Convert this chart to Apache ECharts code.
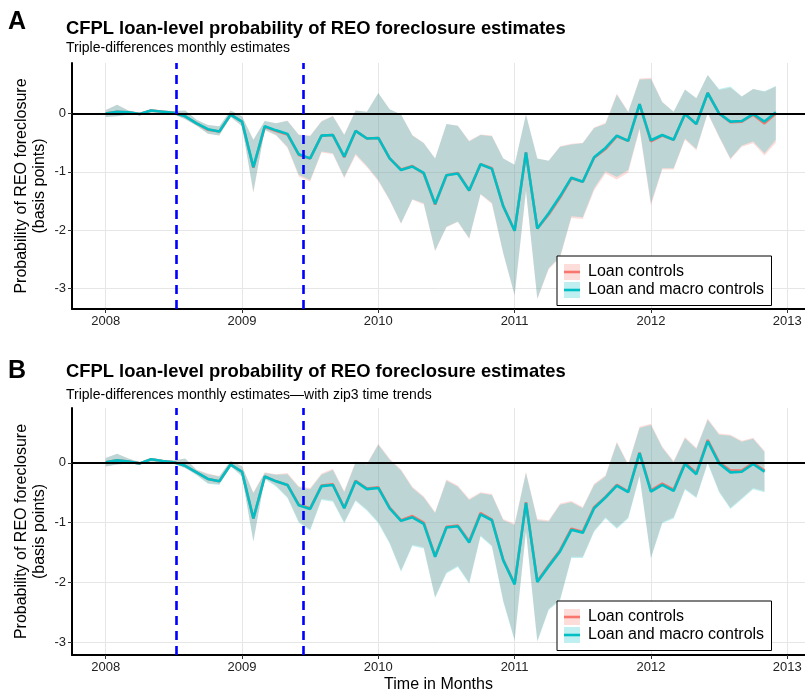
<!DOCTYPE html>
<html><head><meta charset="utf-8">
<script src="https://cdn.jsdelivr.net/npm/echarts@6/dist/echarts.min.js"></script>
<style>html,body{margin:0;padding:0;background:#fff}#c{width:805px;height:693px}</style>
</head><body><div id="c"></div>
<script>
// ---------- data ----------
const months = [
 '2008-01','2008-02','2008-03','2008-04','2008-05','2008-06','2008-07','2008-08','2008-09','2008-10','2008-11','2008-12',
 '2009-01','2009-02','2009-03','2009-04','2009-05','2009-06','2009-07','2009-08','2009-09','2009-10','2009-11','2009-12',
 '2010-01','2010-02','2010-03','2010-04','2010-05','2010-06','2010-07','2010-08','2010-09','2010-10','2010-11','2010-12',
 '2011-01','2011-02','2011-03','2011-04','2011-05','2011-06','2011-07','2011-08','2011-09','2011-10','2011-11','2011-12',
 '2012-01','2012-02','2012-03','2012-04','2012-05','2012-06','2012-07','2012-08','2012-09','2012-10','2012-11','2012-12'];
const yearTicks = [2008, 2009, 2010, 2011, 2012, 2013];
const yTicks = [-3, -2, -1, 0];
const policyDates = ['2008-07-08', '2009-06-15'];
const seriesNames = ['Loan controls', 'Loan and macro controls'];
const titleText = 'CFPL loan-level probability of REO foreclosure estimates';
const subtitleA = 'Triple-differences monthly estimates';
const subtitleB = 'Triple-differences monthly estimates\u2014with zip3 time trends';
const yName = 'Probability of REO foreclosure\n(basis points)';
const xName = 'Time in Months';

// Panel A (60 months)
const aMacroEst = [0.00,0.03,0.02,-0.01,0.05,0.03,0.01,-0.05,-0.17,-0.27,-0.31,-0.02,
 -0.14,-0.92,-0.22,-0.29,-0.35,-0.70,-0.77,-0.38,-0.37,-0.74,-0.30,-0.43,
 -0.42,-0.77,-0.97,-0.91,-1.02,-1.55,-1.06,-1.03,-1.32,-0.87,-0.95,-1.59,
 -2.01,-0.67,-1.97,-1.71,-1.42,-1.10,-1.17,-0.75,-0.59,-0.38,-0.47,0.16,
 -0.46,-0.37,-0.45,-0.01,-0.18,0.35,0.00,-0.14,-0.13,-0.01,-0.14,0.02];
const aMacroHi = [0.06,0.15,0.05,0.01,0.07,0.05,0.04,0.05,-0.11,-0.20,-0.22,0.05,
 -0.05,-0.45,-0.13,-0.17,-0.13,-0.37,-0.39,-0.14,-0.05,-0.37,0.05,0.03,
 0.35,0.07,-0.02,-0.38,-0.51,-0.77,-0.18,-0.21,-0.48,-0.37,-0.39,-0.77,
 -0.88,-0.02,-0.77,-0.81,-0.57,-0.53,-0.51,-0.25,-0.18,0.32,0.02,0.58,
 0.59,0.19,0.03,0.41,0.26,0.66,0.42,0.46,0.29,0.42,0.38,0.47];
const aMacroLo = [-0.06,-0.05,-0.02,-0.03,0.01,0.01,-0.02,-0.10,-0.21,-0.35,-0.38,-0.06,
 -0.22,-1.34,-0.28,-0.37,-0.57,-1.05,-1.14,-0.65,-0.68,-1.09,-0.69,-0.90,
 -1.14,-1.48,-1.88,-1.47,-1.54,-2.35,-1.94,-1.85,-2.14,-1.38,-1.53,-2.39,
 -3.11,-1.32,-3.17,-2.65,-2.45,-1.76,-1.78,-1.28,-0.99,-1.09,-0.97,-0.25,
 -1.54,-0.94,-0.94,-0.43,-0.61,0.01,-0.39,-0.77,-0.55,-0.48,-0.68,-0.45];
const aLoanEst = [0.00,0.03,0.02,-0.01,0.05,0.03,0.01,-0.05,-0.17,-0.28,-0.31,-0.02,
 -0.14,-0.93,-0.23,-0.30,-0.36,-0.71,-0.77,-0.38,-0.37,-0.75,-0.30,-0.43,
 -0.42,-0.77,-0.96,-0.90,-1.03,-1.56,-1.06,-1.02,-1.32,-0.87,-0.94,-1.59,
 -2.01,-0.67,-1.97,-1.73,-1.44,-1.11,-1.17,-0.76,-0.61,-0.39,-0.47,0.16,
 -0.48,-0.38,-0.45,-0.01,-0.18,0.35,0.00,-0.15,-0.14,-0.02,-0.17,0.00];
const aLoanHi = [0.06,0.15,0.05,0.01,0.07,0.05,0.04,0.05,-0.11,-0.20,-0.22,0.05,
 -0.05,-0.45,-0.13,-0.17,-0.12,-0.36,-0.38,-0.13,-0.04,-0.36,0.05,0.03,
 0.35,0.07,-0.02,-0.37,-0.50,-0.77,-0.18,-0.21,-0.47,-0.36,-0.38,-0.77,
 -0.88,-0.02,-0.77,-0.81,-0.56,-0.52,-0.50,-0.24,-0.16,0.34,0.03,0.60,
 0.61,0.20,0.03,0.41,0.26,0.66,0.40,0.44,0.29,0.42,0.37,0.46];
const aLoanLo = [-0.06,-0.05,-0.02,-0.03,0.01,0.01,-0.02,-0.10,-0.21,-0.35,-0.38,-0.06,
 -0.22,-1.36,-0.29,-0.38,-0.59,-1.08,-1.17,-0.67,-0.70,-1.11,-0.72,-0.92,
 -1.16,-1.49,-1.89,-1.48,-1.56,-2.36,-1.95,-1.86,-2.15,-1.39,-1.55,-2.40,
 -3.12,-1.33,-3.18,-2.67,-2.47,-1.79,-1.81,-1.32,-1.03,-1.13,-1.01,-0.28,
 -1.58,-0.96,-0.96,-0.45,-0.63,0.00,-0.41,-0.79,-0.57,-0.51,-0.72,-0.50];

// Panel B (59 months)
const bMacroEst = [0.01,0.04,0.02,-0.01,0.06,0.03,0.01,-0.05,-0.16,-0.27,-0.31,-0.03,
 -0.15,-0.93,-0.23,-0.31,-0.37,-0.71,-0.77,-0.39,-0.37,-0.76,-0.31,-0.44,
 -0.42,-0.76,-0.97,-0.91,-1.02,-1.57,-1.08,-1.06,-1.33,-0.86,-0.96,-1.63,
 -2.03,-0.67,-1.99,-1.73,-1.48,-1.12,-1.17,-0.76,-0.58,-0.38,-0.49,0.16,
 -0.48,-0.37,-0.47,-0.02,-0.19,0.36,-0.01,-0.16,-0.15,-0.02,-0.15];
const bMacroHi = [0.08,0.15,0.07,0.01,0.08,0.05,0.04,0.07,-0.12,-0.19,-0.23,0.03,
 -0.06,-0.51,-0.17,-0.20,-0.19,-0.41,-0.44,-0.20,-0.12,-0.49,0.00,-0.03,
 0.30,0.05,-0.13,-0.42,-0.58,-0.84,-0.30,-0.40,-0.62,-0.51,-0.54,-0.96,
 -1.04,-0.17,-0.96,-0.98,-0.70,-0.66,-0.76,-0.37,-0.23,0.33,-0.04,0.58,
 0.63,0.25,0.01,0.41,0.23,0.72,0.47,0.45,0.35,0.40,0.18];
const bMacroLo = [-0.06,-0.03,-0.01,-0.03,0.02,0.00,-0.02,-0.09,-0.21,-0.35,-0.37,-0.06,
 -0.23,-1.32,-0.27,-0.40,-0.59,-1.00,-1.13,-0.62,-0.65,-1.01,-0.64,-0.80,
 -1.01,-1.35,-1.82,-1.39,-1.43,-2.26,-1.85,-1.74,-2.02,-1.23,-1.40,-2.32,
 -2.97,-1.15,-2.99,-2.46,-2.30,-1.59,-1.59,-1.15,-0.93,-1.10,-0.93,-0.23,
 -1.60,-1.01,-0.93,-0.45,-0.59,-0.01,-0.49,-0.77,-0.61,-0.44,-0.49];
const bLoanEst = [0.01,0.04,0.02,-0.01,0.06,0.03,0.01,-0.05,-0.16,-0.27,-0.31,-0.03,
 -0.15,-0.93,-0.23,-0.31,-0.37,-0.70,-0.76,-0.38,-0.36,-0.75,-0.30,-0.43,
 -0.41,-0.75,-0.96,-0.89,-1.00,-1.56,-1.07,-1.05,-1.31,-0.84,-0.95,-1.62,
 -2.02,-0.66,-1.98,-1.71,-1.46,-1.10,-1.15,-0.74,-0.57,-0.37,-0.48,0.17,
 -0.46,-0.35,-0.45,0.00,-0.17,0.38,0.01,-0.13,-0.13,0.00,-0.13];
const bLoanHi = [0.08,0.15,0.07,0.01,0.08,0.05,0.04,0.07,-0.11,-0.18,-0.22,0.04,
 -0.05,-0.49,-0.16,-0.19,-0.17,-0.39,-0.42,-0.18,-0.10,-0.47,0.02,-0.01,
 0.32,0.07,-0.11,-0.40,-0.56,-0.82,-0.28,-0.38,-0.60,-0.49,-0.52,-0.94,
 -1.02,-0.15,-0.94,-0.96,-0.68,-0.64,-0.74,-0.35,-0.21,0.35,-0.02,0.60,
 0.65,0.27,0.03,0.43,0.25,0.74,0.49,0.47,0.37,0.42,0.20];
const bLoanLo = [-0.06,-0.03,-0.01,-0.03,0.02,0.00,-0.02,-0.08,-0.20,-0.34,-0.36,-0.05,
 -0.22,-1.30,-0.26,-0.38,-0.57,-0.98,-1.11,-0.60,-0.63,-0.99,-0.62,-0.78,
 -0.99,-1.33,-1.80,-1.37,-1.41,-2.24,-1.83,-1.72,-2.00,-1.21,-1.38,-2.30,
 -2.95,-1.13,-2.97,-2.44,-2.28,-1.57,-1.57,-1.13,-0.91,-1.08,-0.91,-0.21,
 -1.58,-0.99,-0.91,-0.43,-0.57,0.01,-0.47,-0.75,-0.59,-0.42,-0.47];

// ---------- helpers ----------
const RED = '#F8766D', CYAN = '#00BFC4';
const RED_FILL = 'rgba(248,118,109,0.25)', CYAN_FILL = 'rgba(0,191,196,0.25)';
const FONT = '"Liberation Sans", Arial, Helvetica, sans-serif';

function monthToYear(s) { const p = s.split('-'); return +p[0] + (+p[1] - 1) / 12; }
function dateToYear(s) {
  const d = new Date(s + 'T00:00:00Z'); const y = d.getUTCFullYear();
  const start = Date.UTC(y, 0, 1), end = Date.UTC(y + 1, 0, 1);
  return y + (d.getTime() - start) / (end - start);
}
const xs = months.map(monthToYear);
const policyX = policyDates.map(dateToYear);

function band(idx, lo, hi, fill, name) {
  return {
    type: 'custom', name: name, xAxisIndex: idx, yAxisIndex: idx, z: 1, silent: true,
    clip: true,
    data: lo.map((v, i) => [xs[i], v, hi[i]]),
    encode: { x: 0, y: [1, 2] },
    renderItem: function (params, api) {
      if (params.dataIndex !== 0) return null;
      const pts = [];
      for (let i = 0; i < hi.length; i++) pts.push(api.coord([xs[i], hi[i]]));
      for (let i = lo.length - 1; i >= 0; i--) pts.push(api.coord([xs[i], lo[i]]));
      return { type: 'polygon', shape: { points: pts }, style: { fill: fill, stroke: null } };
    }
  };
}
function line(idx, est, color, name, z) {
  return {
    type: 'line', name: name, xAxisIndex: idx, yAxisIndex: idx, z: z,
    data: est.map((v, i) => [xs[i], v]), showSymbol: false, symbol: 'none',
    lineStyle: { color: color, width: 2.6 }, itemStyle: { color: color }, animation: false
  };
}
function refLines(idx) {
  return [{
    type: 'line', xAxisIndex: idx, yAxisIndex: idx, data: [], z: 2, silent: true,
    markLine: { silent: true, symbol: 'none', label: { show: false }, animation: false,
      lineStyle: { color: '#000', width: 1.8, type: 'solid' }, data: [{ yAxis: 0 }] }
  }, {
    type: 'line', xAxisIndex: idx, yAxisIndex: idx, data: [], z: 5, silent: true,
    markLine: { silent: true, symbol: 'none', label: { show: false }, animation: false,
      lineStyle: { color: '#0000FF', width: 2.6, type: [9, 6] },
      data: policyX.map(v => ({ xAxis: v })) }
  }];
}
function xAxis(idx, showName) {
  return {
    type: 'value', gridIndex: idx, min: 2007.7527, max: 2013.1305,
    name: showName ? xName : '', nameLocation: 'middle', nameGap: 22, nameMoveOverlap: false,
    nameTextStyle: { fontFamily: FONT, fontSize: 16, color: '#000', verticalAlign: 'top' },
    axisLine: { show: true, onZero: false, lineStyle: { color: '#000', width: 2 } },
    axisTick: { show: true, length: 4, lineStyle: { color: '#333', width: 1 }, customValues: yearTicks },
    axisLabel: { fontFamily: FONT, fontSize: 13, color: '#222', margin: 6, customValues: yearTicks,
      formatter: v => String(v) },
    splitLine: { show: true, lineStyle: { color: '#E6E6E6', width: 1 } }
  };
}
function yAxis(idx, min, max) {
  return {
    type: 'value', gridIndex: idx, min: min, max: max,
    name: yName, nameLocation: 'middle', nameGap: 23, nameRotate: 90, nameMoveOverlap: false,
    nameTextStyle: { fontFamily: FONT, fontSize: 16, color: '#000', lineHeight: 18 },
    axisLine: { show: true, onZero: false, lineStyle: { color: '#000', width: 2 } },
    axisTick: { show: true, length: 4, lineStyle: { color: '#333', width: 1 }, customValues: yTicks },
    axisLabel: { fontFamily: FONT, fontSize: 13, color: '#222', margin: 6, customValues: yTicks,
      formatter: v => String(v) },
    splitLine: { show: true, lineStyle: { color: '#E6E6E6', width: 1 } }
  };
}
function legendGraphic(top) {
  const L = 556.5, W = 214.5, H = 49.5;
  return [
    { type: 'rect', left: L, top: top, shape: { width: W, height: H }, style: { fill: '#fff', stroke: '#000', lineWidth: 1 }, z: 10 },
    { type: 'rect', left: 564, top: top + 8.5, shape: { width: 16, height: 16 }, style: { fill: RED_FILL }, z: 11 },
    { type: 'line', shape: { x1: 564, y1: top + 16.5, x2: 580, y2: top + 16.5 }, style: { stroke: RED, lineWidth: 2.6 }, z: 12 },
    { type: 'rect', left: 564, top: top + 26.5, shape: { width: 16, height: 16 }, style: { fill: CYAN_FILL }, z: 11 },
    { type: 'line', shape: { x1: 564, y1: top + 34.5, x2: 580, y2: top + 34.5 }, style: { stroke: CYAN, lineWidth: 2.6 }, z: 12 },
    { type: 'text', x: 588, y: top + 16.5, style: { text: seriesNames[0], font: '16px ' + FONT, fill: '#000', verticalAlign: 'middle' }, z: 12 },
    { type: 'text', x: 588, y: top + 34.5, style: { text: seriesNames[1], font: '16px ' + FONT, fill: '#000', verticalAlign: 'middle' }, z: 12 }
  ];
}

const chart = echarts.init(document.getElementById('c'), null, { renderer: 'canvas' });
chart.setOption({
  animation: false,
  backgroundColor: '#fff',
  title: [
    { text: 'A', left: 8, top: 10, padding: 0, textStyle: { fontFamily: FONT, fontSize: 25, fontWeight: 'bold', color: '#000' } },
    { text: titleText, subtext: subtitleA, left: 66, top: 20, padding: 0, itemGap: 3,
      textStyle: { fontFamily: FONT, fontSize: 18.4, fontWeight: 'bold', color: '#000' },
      subtextStyle: { fontFamily: FONT, fontSize: 14, color: '#000' } },
    { text: 'B', left: 8, top: 359, padding: 0, textStyle: { fontFamily: FONT, fontSize: 25, fontWeight: 'bold', color: '#000' } },
    { text: titleText, subtext: subtitleB, left: 66, top: 363, padding: 0, itemGap: 7,
      textStyle: { fontFamily: FONT, fontSize: 18.4, fontWeight: 'bold', color: '#000' },
      subtextStyle: { fontFamily: FONT, fontSize: 14, color: '#000' } }
  ],
  grid: [
    { left: 72, right: 0, top: 63, height: 246, outerBoundsMode: 'none', containLabel: false },
    { left: 72, right: 0, top: 408, height: 247, outerBoundsMode: 'none', containLabel: false }
  ],
  xAxis: [xAxis(0, false), xAxis(1, true)],
  yAxis: [yAxis(0, -3.35, 0.864), yAxis(1, -3.21, 0.915)],
  series: [
    band(0, aLoanLo, aLoanHi, RED_FILL, seriesNames[0]),
    band(0, aMacroLo, aMacroHi, CYAN_FILL, seriesNames[1]),
    ...refLines(0),
    line(0, aLoanEst, RED, seriesNames[0], 3),
    line(0, aMacroEst, CYAN, seriesNames[1], 4),
    band(1, bLoanLo, bLoanHi, RED_FILL, seriesNames[0]),
    band(1, bMacroLo, bMacroHi, CYAN_FILL, seriesNames[1]),
    ...refLines(1),
    line(1, bLoanEst, RED, seriesNames[0], 3),
    line(1, bMacroEst, CYAN, seriesNames[1], 4)
  ],
  graphic: [...legendGraphic(255.5), ...legendGraphic(600.5)]
});
</script>
</body></html>
